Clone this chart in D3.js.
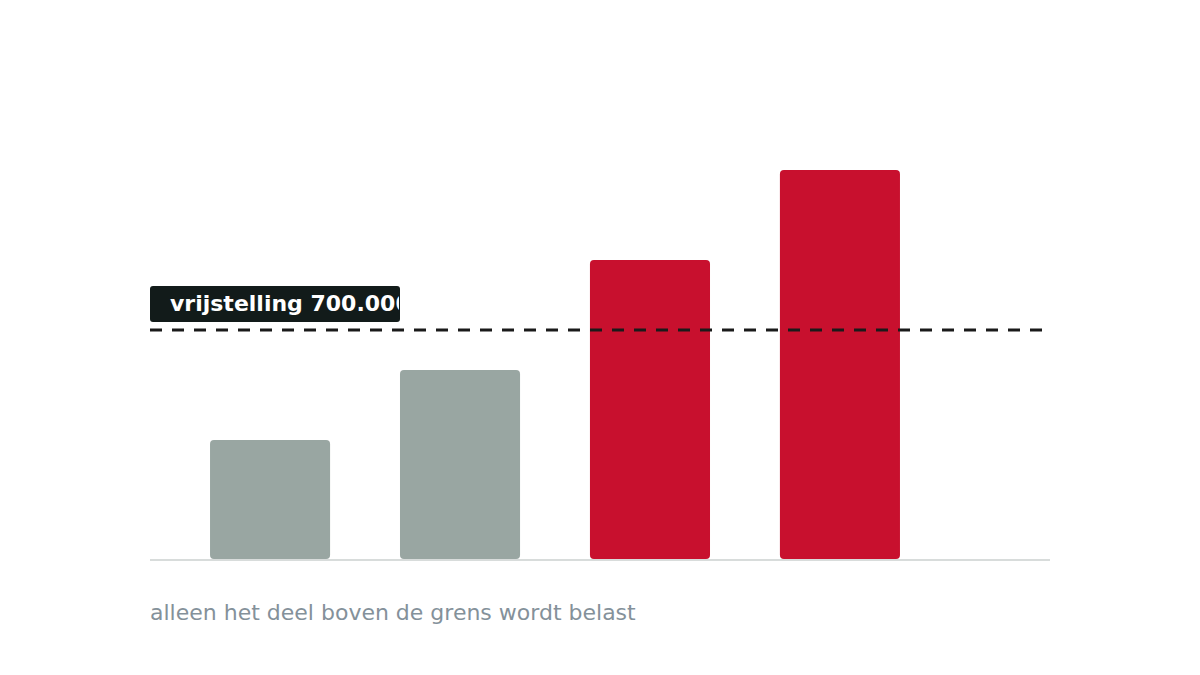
<!DOCTYPE html>
<html>
<head>
<meta charset="utf-8">
<script src="https://cdn.jsdelivr.net/npm/d3@7"></script>
<style>
  body { margin: 0; background: #fff; }
  svg { display: block; font-family: "DejaVu Sans", sans-serif; }
</style>
</head>
<body>
<svg id="chart"></svg>
<script>
// Chart data
const categories = ['a', 'b', 'c', 'd'];
const values = [365000, 578000, 913000, 1187000];
const threshold = 700000;
const thresholdLabel = 'vrijstelling 700.000';
const footnote = 'alleen het deel boven de grens wordt belast';

const width = 1200;
const height = 675;
const colorBelow = '#99a6a2';
const colorAbove = '#c8102e';

const svg = d3.select('#chart')
    .attr('width', width)
    .attr('height', height);

// Scales
const x = d3.scaleBand()
    .domain(categories)
    .range([150, 960])
    .paddingInner(0.368)
    .paddingOuter(0.316);

const y = d3.scaleLinear()
    .domain([0, 1400000])
    .range([560, 100]);

// Bars
svg.append('g')
    .selectAll('rect')
    .data(values)
    .join('rect')
    .attr('x', (d, i) => x(categories[i]))
    .attr('y', (d) => y(d))
    .attr('width', x.bandwidth())
    .attr('height', (d) => y(0) - 1 - y(d))
    .attr('rx', 4)
    .attr('fill', (d) => (d > threshold ? colorAbove : colorBelow));

// Baseline
svg.append('line')
    .attr('x1', 150)
    .attr('x2', 1050)
    .attr('y1', y(0))
    .attr('y2', y(0))
    .attr('stroke', '#d8dcdb')
    .attr('stroke-width', 2);

// Threshold line
svg.append('line')
    .attr('x1', 150)
    .attr('x2', 1050)
    .attr('y1', y(threshold))
    .attr('y2', y(threshold))
    .attr('stroke', '#1a1a1a')
    .attr('stroke-width', 3)
    .attr('stroke-dasharray', '12 10');

// Threshold label (clipped to its box)
const labelY = y(threshold) - 44;
svg.append('clipPath')
    .attr('id', 'label-clip')
    .append('rect')
    .attr('x', 150)
    .attr('y', labelY)
    .attr('width', 249)
    .attr('height', 36);

const label = svg.append('g');
label.append('rect')
    .attr('x', 150)
    .attr('y', labelY)
    .attr('width', 250)
    .attr('height', 36)
    .attr('rx', 3)
    .attr('fill', '#121b1a');
label.append('text')
    .attr('clip-path', 'url(#label-clip)')
    .attr('x', 170)
    .attr('y', labelY + 25)
    .attr('fill', '#ffffff')
    .attr('font-size', 22)
    .attr('font-weight', 'bold')
    .text(thresholdLabel);

// Footnote
svg.append('text')
    .attr('x', 150)
    .attr('y', 620)
    .attr('fill', '#84919a')
    .attr('font-size', 22)
    .text(footnote);
</script>
</body>
</html>
